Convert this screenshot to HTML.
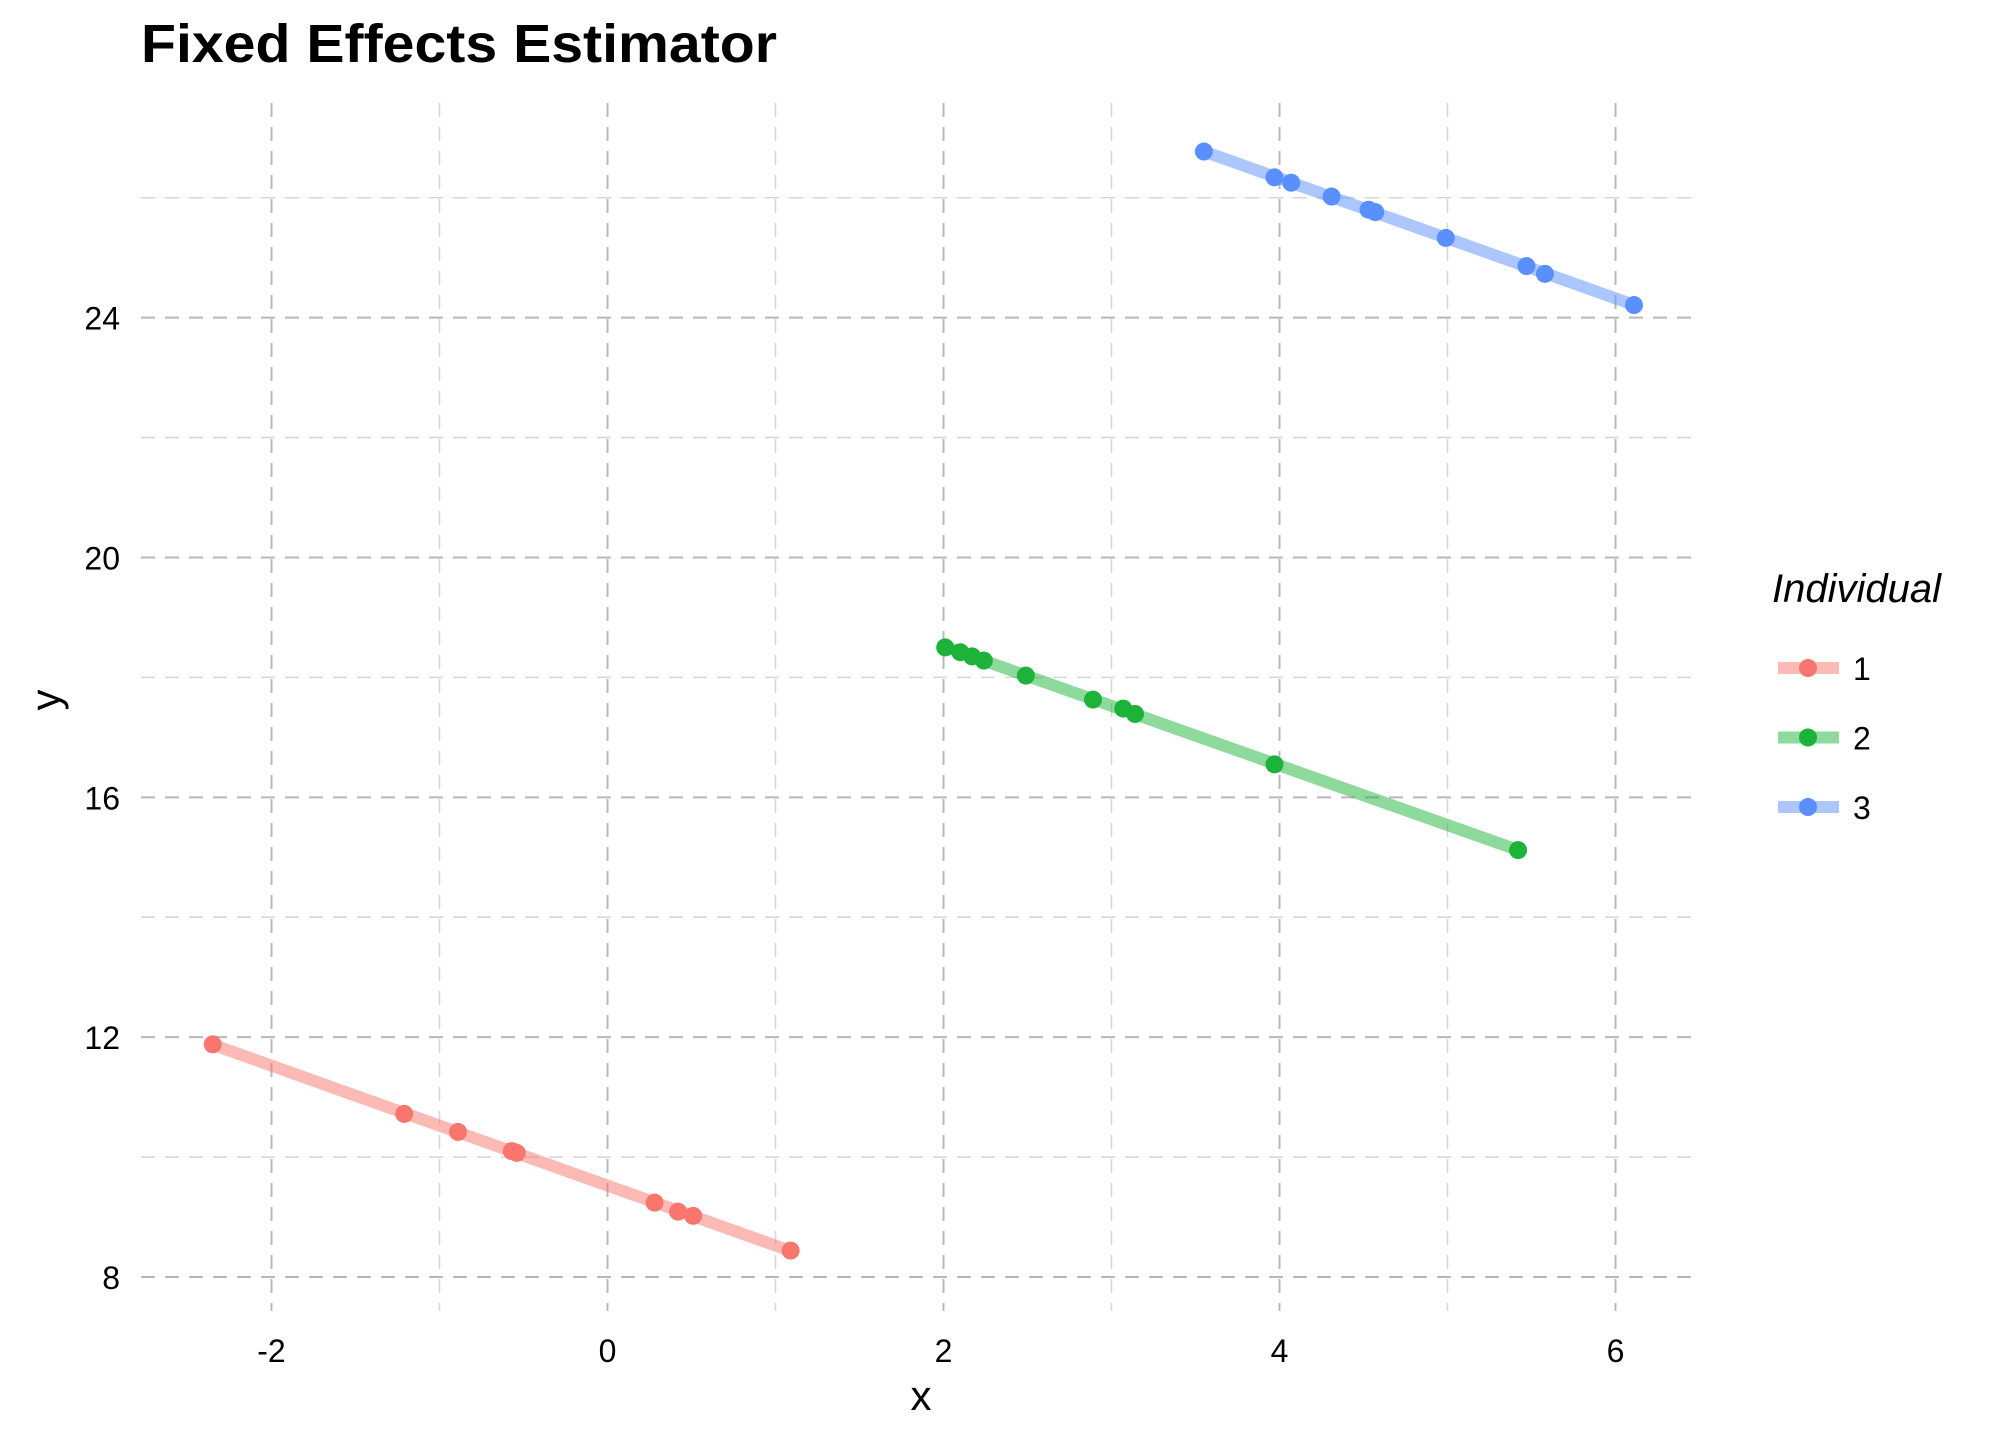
<!DOCTYPE html>
<html><head><meta charset="utf-8"><style>
body{margin:0;background:#fff;}
svg text{font-family:"Liberation Sans",Arial,sans-serif;}
</style></head><body>
<svg id="chart" width="2016" height="1440" viewBox="0 0 2016 1440" xmlns="http://www.w3.org/2000/svg">
<text x="141" y="62" font-size="54" font-weight="bold" textLength="636" lengthAdjust="spacingAndGlyphs">Fixed Effects Estimator</text>
<g id="grid"></g>
<g id="lines"></g>
<g id="points"></g>
<g id="axes"></g>
<text x="921" y="1410" font-size="42" text-anchor="middle">x</text>
<text x="0" y="0" font-size="42" text-anchor="middle" transform="translate(60,700) rotate(-90)">y</text>
<g id="legend"></g>
</svg>
<script>
const groups = ["1","2","3"];
const colors = ["#F8766D","#1DB33A","#5A8FFF"];
const x1 = [-2.35,-1.21,-0.89,-0.57,-0.54,0.28,0.42,0.51,1.09];
const y1 = [11.88,10.72,10.42,10.10,10.07,9.24,9.09,9.02,8.44];
const x2 = [2.01,2.10,2.17,2.24,2.49,2.89,3.07,3.14,3.97,5.42];
const y2 = [18.50,18.42,18.35,18.28,18.03,17.63,17.48,17.39,16.55,15.12];
const x3 = [3.55,3.97,4.07,4.31,4.53,4.57,4.99,5.47,5.58,6.11];
const y3 = [26.77,26.34,26.25,26.02,25.80,25.76,25.33,24.86,24.73,24.21];
const xTicks = [-2,0,2,4,6];
const yTicks = [8,12,16,20,24];
const xMinor = [-1,1,3,5];
const yMinor = [10,14,18,22,26];

const NS="http://www.w3.org/2000/svg";
function sx(v){return 607.5+v*168;}
function sy(v){return 1277-(v-8)*59.96;}
const PL=141, PR=1692, PT=103, PB=1311;
function mk(tag,attrs,parent){const e=document.createElementNS(NS,tag);for(const k in attrs)e.setAttribute(k,attrs[k]);parent.appendChild(e);return e;}
const grid=document.getElementById('grid');
xMinor.forEach(v=>{const l=mk('line',{x1:sx(v),x2:sx(v),y1:PT,y2:PB,stroke:'#d6d6d6','stroke-width':1.5,'stroke-dasharray':'14 10'},grid);

});
yMinor.forEach(v=>{const l=mk('line',{x1:PL,x2:PR,y1:sy(v),y2:sy(v),stroke:'#d6d6d6','stroke-width':1.5,'stroke-dasharray':'14 10'},grid);

});
xTicks.forEach(v=>{const l=mk('line',{x1:sx(v),x2:sx(v),y1:PT,y2:PB,stroke:'#b8b8b8','stroke-width':2,'stroke-dasharray':'14 10'},grid);

});
yTicks.forEach(v=>{const l=mk('line',{x1:PL,x2:PR,y1:sy(v),y2:sy(v),stroke:'#b8b8b8','stroke-width':2,'stroke-dasharray':'14 10'},grid);

});
const axes=document.getElementById('axes');
xTicks.forEach(v=>{const t=mk('text',{x:sx(v),y:1362,'font-size':32,'text-anchor':'middle'},axes);t.textContent=v;

});
yTicks.forEach(v=>{const t=mk('text',{x:120,y:sy(v)+12,'font-size':32,'text-anchor':'end'},axes);t.textContent=v;

});
const xs=[x1,x2,x3], ys=[y1,y2,y3];
const lines=document.getElementById('lines'), pts=document.getElementById('points');
xs.forEach((X,g)=>{const Y=ys[g];const n=X.length;
 const mx=X.reduce((a,b)=>a+b)/n, my=Y.reduce((a,b)=>a+b)/n;
 let sxy=0,sxx=0;for(let i=0;i<n;i++){sxy+=(X[i]-mx)*(Y[i]-my);sxx+=(X[i]-mx)**2;}
 const b=sxy/sxx,a=my-b*mx;const lo=Math.min(...X),hi=Math.max(...X);
 const l=mk('line',{x1:sx(lo),y1:sy(a+b*lo),x2:sx(hi),y2:sy(a+b*hi),stroke:colors[g],'stroke-opacity':0.5,'stroke-width':12},lines);
 
 
 for(let i=0;i<n;i++){const c=mk('circle',{cx:sx(X[i]),cy:sy(Y[i]),r:9,fill:colors[g]},pts);
  
  }
});
const lg=document.getElementById('legend');
const lt=mk('text',{x:1772,y:602,'font-size':40,'font-style':'italic'},lg);lt.textContent='Individual';


groups.forEach((gname,g)=>{const y=668+g*69.5;
 const e=mk('g',{},lg);
 
 
 mk('line',{x1:1778,x2:1839,y1:y,y2:y,stroke:colors[g],'stroke-opacity':0.5,'stroke-width':12},e);
 mk('circle',{cx:1808,cy:y,r:9,fill:colors[g]},e);
 const t=mk('text',{x:1853,y:y+12,'font-size':32},e);t.textContent=gname;});
</script>
</body></html>
